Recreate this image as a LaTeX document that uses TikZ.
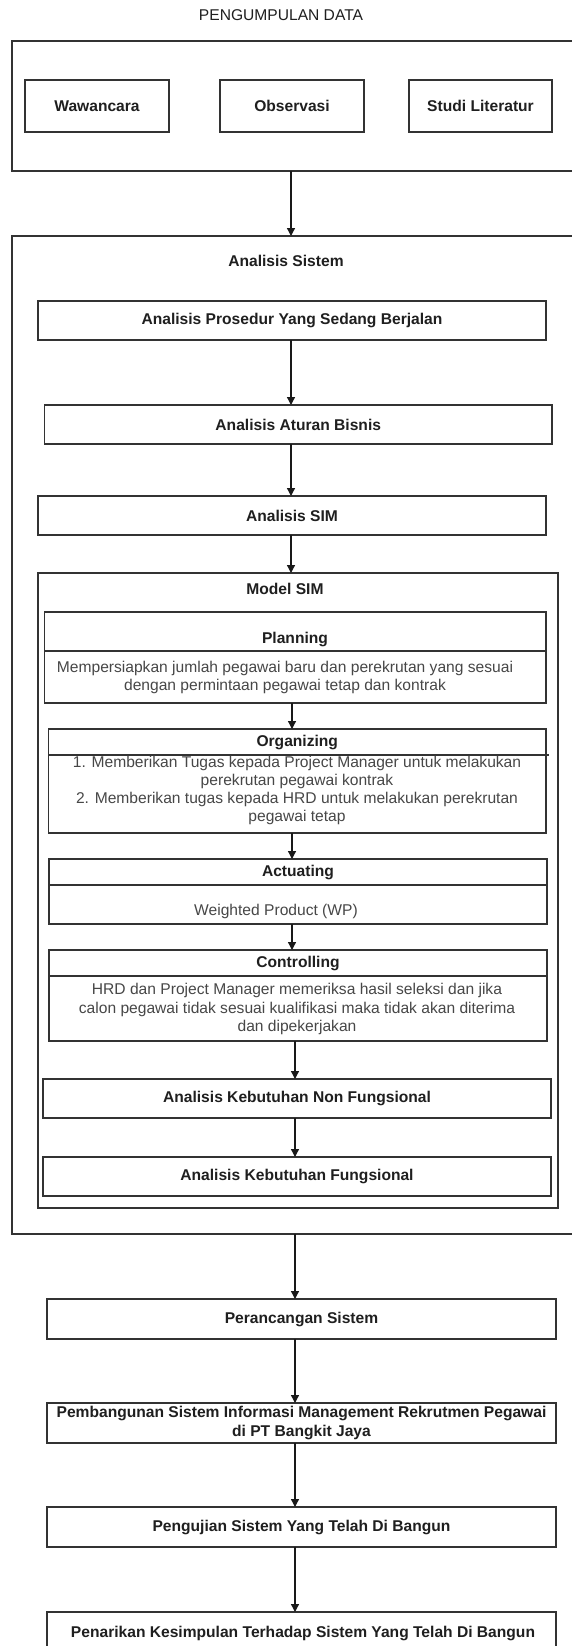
\documentclass[tikz,border=0pt]{standalone}
\usepackage{fontspec}
\setmainfont{Liberation Sans}
\usetikzlibrary{arrows.meta,positioning}
\begin{document}
\begin{tikzpicture}[x=1pt,y=-1pt,
  box/.style={draw=black!80,line width=1.3pt,rectangle,inner sep=0pt,outer sep=0pt,anchor=north west,align=center,text=black!88,font=\fontsize{15.6}{18.3}\selectfont\bfseries},
  lbl/.style={inner sep=0pt,text=black!88,font=\fontsize{15.6}{18.3}\selectfont\bfseries,align=center},
  dtext/.style={inner sep=0pt,text=black!72,font=\fontsize{15.6}{18.3}\selectfont,align=center},
  arr/.style={draw=black!90,line width=1.3pt,-{Triangle[length=8pt,width=8pt]}}
]
\useasboundingbox[fill=white] (0,0) rectangle (572,1646);

% Pengumpulan data
\node[inner sep=0pt,text=black!88,font=\fontsize{15.6}{18}\selectfont] (title) at (281,15) {PENGUMPULAN DATA};
\node[box,minimum width=570pt,minimum height=130pt] (pd) at (12,41) {};
\node[box,minimum width=144pt,minimum height=52pt] (waw) at (25,80) {Wawancara};
\node[box,minimum width=144pt,minimum height=52pt] (obs) at (220,80) {Observasi};
\node[box,minimum width=143pt,minimum height=52pt] (stu) at (409,80) {Studi Literatur};

% Analisis Sistem
\node[box,minimum width=570pt,minimum height=998pt] (as) at (12,236) {};
\node[lbl] (aslbl) at (286,261) {Analisis Sistem};
\node[box,minimum width=508pt,minimum height=39pt] (pros) at (38,301) {Analisis Prosedur Yang Sedang Berjalan};
\node[box,minimum width=507.5pt,minimum height=39pt] (atur) at (44.5,405) {Analisis Aturan Bisnis};
\node[box,minimum width=508pt,minimum height=39pt] (sim) at (38,496) {Analisis SIM};

% Model SIM
\node[box,minimum width=520pt,minimum height=635pt] (model) at (38,573) {};
\node[lbl] (modellbl) at (285,589) {Model SIM};

\node[box,minimum width=501.5pt,minimum height=39pt] (planh) at (44.5,612) {};
\node[lbl] (planhl) at (295,639) {Planning};
\node[box,minimum width=501.5pt,minimum height=52pt] (planb) at (44.5,651) {};
\node[dtext] (planbt) at (285,677.5) {Mempersiapkan jumlah pegawai baru dan perekrutan yang sesuai\\dengan permintaan pegawai tetap dan kontrak};

\node[box,minimum width=497.5pt,minimum height=26pt] (orgh) at (48.5,729) {Organizing};
\node[box,minimum width=497.5pt,minimum height=78pt] (orgb) at (48.5,755) {};
\draw[draw=black!80,line width=1.3pt] (orgh.south east) -- ++(3,0);
\node[dtext] (orgbt) at (297,790.5) {1. Memberikan Tugas kepada Project Manager untuk melakukan\\perekrutan pegawai kontrak\\2. Memberikan tugas kepada HRD untuk melakukan perekrutan\\pegawai tetap};

\node[box,minimum width=498pt,minimum height=26pt] (acth) at (49,859) {Actuating};
\node[box,minimum width=498pt,minimum height=39pt] (actb) at (49,885) {};
\node[dtext] (actbt) at (276,911) {Weighted Product (WP)};

\node[box,minimum width=498pt,minimum height=26pt] (conh) at (49,950) {Controlling};
\node[box,minimum width=498pt,minimum height=65pt] (conb) at (49,976) {};
\node[dtext] (conbt) at (297,1009) {HRD dan Project Manager memeriksa hasil seleksi dan jika\\calon pegawai tidak sesuai kualifikasi maka tidak akan diterima\\dan dipekerjakan};

\node[box,minimum width=508pt,minimum height=39pt] (nonf) at (43,1079) {Analisis Kebutuhan Non Fungsional};
\node[box,minimum width=508pt,minimum height=39pt] (fung) at (43,1157) {Analisis Kebutuhan Fungsional};

% Bottom chain
\node[box,minimum width=509pt,minimum height=40pt] (peran) at (47,1299) {Perancangan Sistem};
\node[box,minimum width=509pt,minimum height=40pt] (pemb) at (47,1403) {Pembangunan Sistem Informasi Management Rekrutmen Pegawai\\di PT Bangkit Jaya};
\node[box,minimum width=509pt,minimum height=40pt] (peng) at (47,1507) {Pengujian Sistem Yang Telah Di Bangun};
\node[box,minimum width=509pt,minimum height=40pt] (pena) at (47,1612) {};
\node[lbl] (penat) at (303,1633) {Penarikan Kesimpulan Terhadap Sistem Yang Telah Di Bangun};

% connectors
\coordinate (cx) at (291,0);
\coordinate (cx2) at (292,0);
\coordinate (cx3) at (295,0);
\draw[arr] (pd.south -| cx) -- (as.north -| cx);
\draw[arr] (pros.south -| cx) -- (atur.north -| cx);
\draw[arr] (atur.south -| cx) -- (sim.north -| cx);
\draw[arr] (sim.south -| cx) -- (model.north -| cx);
\draw[arr] (planb.south -| cx2) -- (orgh.north -| cx2);
\draw[arr] (orgb.south -| cx2) -- (acth.north -| cx2);
\draw[arr] (actb.south -| cx2) -- (conh.north -| cx2);
\draw[arr] (conb.south -| cx3) -- (nonf.north -| cx3);
\draw[arr] (nonf.south -| cx3) -- (fung.north -| cx3);
\draw[arr] (as.south -| cx3) -- (peran.north -| cx3);
\draw[arr] (peran.south -| cx3) -- (pemb.north -| cx3);
\draw[arr] (pemb.south -| cx3) -- (peng.north -| cx3);
\draw[arr] (peng.south -| cx3) -- (pena.north -| cx3);
\end{tikzpicture}
\end{document}
